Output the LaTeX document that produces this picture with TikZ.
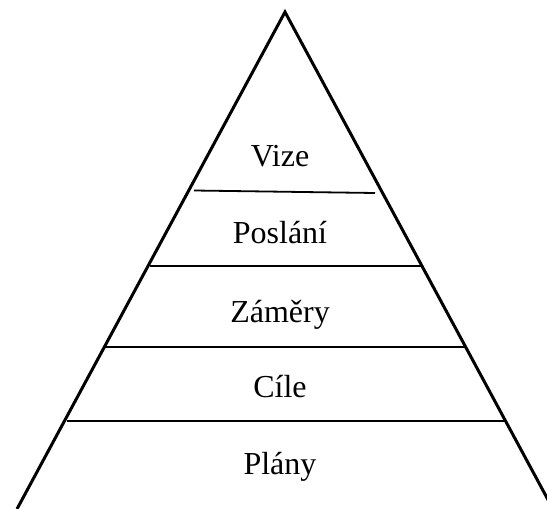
\documentclass[tikz,border=0pt]{standalone}
\usepackage{fontspec}
\setmainfont{Liberation Serif}
\begin{document}
\begin{tikzpicture}[x=1pt,y=-1pt,
  edge/.style={line width=3pt,line join=miter},
  tier/.style={line width=1.8pt},
  label/.style={anchor=base,inner sep=0pt,font=\fontsize{32}{38}\selectfont}]
\useasboundingbox (0,0) rectangle (547,509);
\clip (0,0) rectangle (547,509);
% pyramid outline
\coordinate (apex) at (285,12);
\coordinate (bl) at (17,509);
\coordinate (br) at (553,509);
\draw[edge] (bl) -- (apex) -- (br);
% tier separators
\coordinate (s1l) at (194,190.5); \coordinate (s1r) at (375,193);
\coordinate (s2l) at (150,266);   \coordinate (s2r) at (422,266);
\coordinate (s3l) at (104,347);   \coordinate (s3r) at (465,347);
\coordinate (s4l) at (67,421);    \coordinate (s4r) at (507,421);
\draw[tier] (s1l) -- (s1r);
\draw[tier] (s2l) -- (s2r);
\draw[tier] (s3l) -- (s3r);
\draw[tier] (s4l) -- (s4r);
% tier labels
\node[label] (vize)    at (280,166.5) {Vize};
\node[label] (poslani) at (280,243) {Poslání};
\node[label] (zamery)  at (280,322) {Záměry};
\node[label] (cile)    at (280,397) {Cíle};
\node[label] (plany)   at (280,474) {Plány};
\end{tikzpicture}
\end{document}
